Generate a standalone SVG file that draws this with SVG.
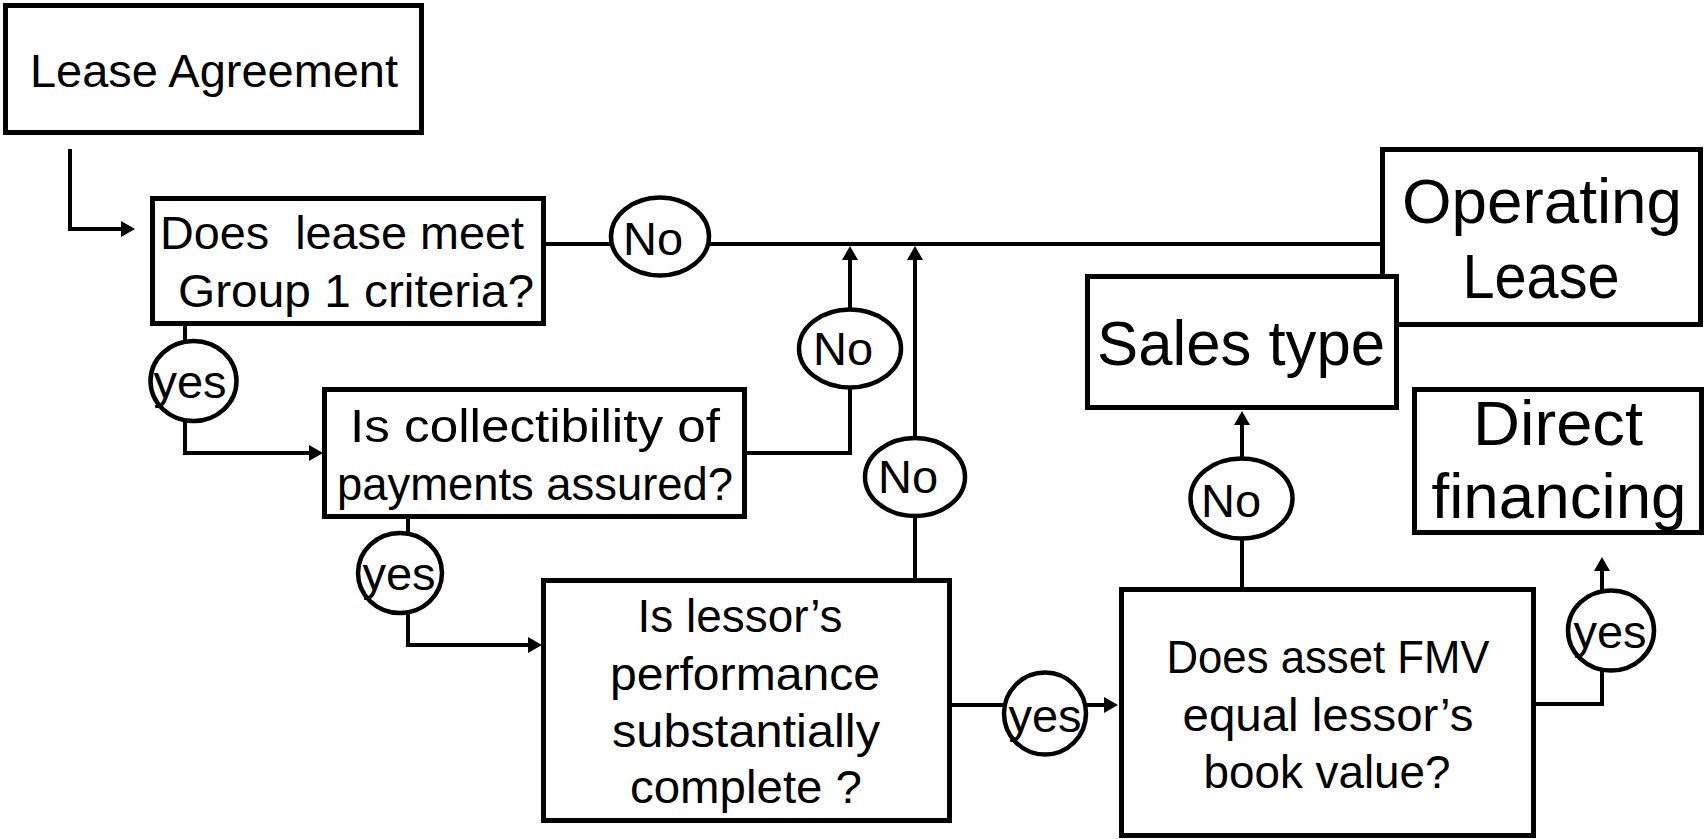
<svg xmlns="http://www.w3.org/2000/svg" width="1705" height="839" viewBox="0 0 1705 839">
<style>
.box{fill:#fff;stroke:#000;stroke-width:5}
.oval{fill:#fff;stroke:#000;stroke-width:4.5}
.conn{fill:none;stroke:#000;stroke-width:4}
text{font-family:"Liberation Sans",Arial,sans-serif;fill:#000;text-anchor:middle;white-space:pre}
.q{font-size:47px}
.lbl{font-size:47px}
.big{font-size:63px}
</style>
<defs>
<marker id="ah" viewBox="0 0 14 16" refX="0" refY="8" markerWidth="14" markerHeight="16" markerUnits="userSpaceOnUse" orient="auto">
<path d="M0,0 L14,8 L0,16 z" fill="#000"/>
</marker>
</defs>
<rect width="1705" height="839" fill="#fff"/>
<g id="connectors">
<path class="conn" d="M70,149 V229 H121" marker-end="url(#ah)"/>
<path class="conn" d="M546,244 H1380"/>
<path class="conn" d="M185,325 V453 H309" marker-end="url(#ah)"/>
<path class="conn" d="M747,453 H850 V260" marker-end="url(#ah)"/>
<path class="conn" d="M915,578 V260" marker-end="url(#ah)"/>
<path class="conn" d="M408,519 V645 H528" marker-end="url(#ah)"/>
<path class="conn" d="M952,705 H1104" marker-end="url(#ah)"/>
<path class="conn" d="M1242,587 V425" marker-end="url(#ah)"/>
<path class="conn" d="M1536,704 H1602 V571" marker-end="url(#ah)"/>
</g>
<g id="lease-agreement">
<rect class="box" x="5.5" y="5.5" width="416" height="127"/>
<text class="q" x="214" y="87" textLength="368" lengthAdjust="spacingAndGlyphs">Lease Agreement</text>
</g>
<g id="group1">
<rect class="box" x="152.5" y="198.5" width="391" height="125"/>
<text class="q" x="342" y="249" textLength="364" lengthAdjust="spacingAndGlyphs">Does  lease meet</text>
<text class="q" x="356" y="307" textLength="356" lengthAdjust="spacingAndGlyphs">Group 1 criteria?</text>
</g>
<g id="collectibility">
<rect class="box" x="324.5" y="389.5" width="420" height="127"/>
<text class="q" x="535" y="442" textLength="370" lengthAdjust="spacingAndGlyphs">Is collectibility of</text>
<text class="q" x="535" y="500" textLength="396" lengthAdjust="spacingAndGlyphs">payments assured?</text>
</g>
<g id="performance">
<rect class="box" x="543.5" y="580.5" width="406" height="240"/>
<text class="q" x="740" y="632" textLength="205" lengthAdjust="spacingAndGlyphs">Is lessor’s</text>
<text class="q" x="745" y="690" textLength="270" lengthAdjust="spacingAndGlyphs">performance</text>
<text class="q" x="746" y="747" textLength="268" lengthAdjust="spacingAndGlyphs">substantially</text>
<text class="q" x="746" y="803" textLength="232" lengthAdjust="spacingAndGlyphs">complete ?</text>
</g>
<g id="fmv">
<rect class="box" x="1121.5" y="589.5" width="412" height="246"/>
<text class="q" x="1328" y="673" textLength="323" lengthAdjust="spacingAndGlyphs">Does asset FMV</text>
<text class="q" x="1328" y="731" textLength="291" lengthAdjust="spacingAndGlyphs">equal lessor’s</text>
<text class="q" x="1327" y="788" textLength="247" lengthAdjust="spacingAndGlyphs">book value?</text>
</g>
<g id="operating-lease">
<rect class="box" x="1382.5" y="149.5" width="318" height="175"/>
<text class="big" x="1542" y="223" textLength="280" lengthAdjust="spacingAndGlyphs">Operating</text>
<text class="big" x="1541" y="298" textLength="157" lengthAdjust="spacingAndGlyphs">Lease</text>
</g>
<g id="sales-type">
<rect class="box" x="1087.5" y="276.5" width="309" height="131"/>
<text class="big" x="1241" y="365" textLength="288" lengthAdjust="spacingAndGlyphs">Sales type</text>
</g>
<g id="direct-financing">
<rect class="box" x="1414.5" y="389.5" width="287" height="143"/>
<text class="big" x="1558" y="445" textLength="170" lengthAdjust="spacingAndGlyphs">Direct</text>
<text class="big" x="1559" y="518" textLength="255" lengthAdjust="spacingAndGlyphs">financing</text>
</g>
<g id="no1">
<ellipse class="oval" cx="660" cy="236.5" rx="49" ry="39"/>
<text class="lbl" x="653" y="255">No</text>
</g>
<g id="no2">
<ellipse class="oval" cx="850" cy="348.5" rx="51" ry="39"/>
<text class="lbl" x="843" y="365">No</text>
</g>
<g id="no3">
<ellipse class="oval" cx="915" cy="477" rx="50" ry="39"/>
<text class="lbl" x="908" y="493">No</text>
</g>
<g id="no4">
<ellipse class="oval" cx="1241.5" cy="498.5" rx="51" ry="40"/>
<text class="lbl" x="1231" y="517">No</text>
</g>
<g id="yes1">
<ellipse class="oval" cx="193.5" cy="381" rx="43" ry="40"/>
<text class="lbl" x="190" y="398">yes</text>
</g>
<g id="yes2">
<ellipse class="oval" cx="400" cy="573" rx="42" ry="40"/>
<text class="lbl" x="399" y="590">yes</text>
</g>
<g id="yes3">
<ellipse class="oval" cx="1045" cy="713.5" rx="41" ry="41"/>
<text class="lbl" x="1045" y="732">yes</text>
</g>
<g id="yes4">
<ellipse class="oval" cx="1611" cy="630.5" rx="43" ry="40"/>
<text class="lbl" x="1610" y="648">yes</text>
</g>
</svg>
